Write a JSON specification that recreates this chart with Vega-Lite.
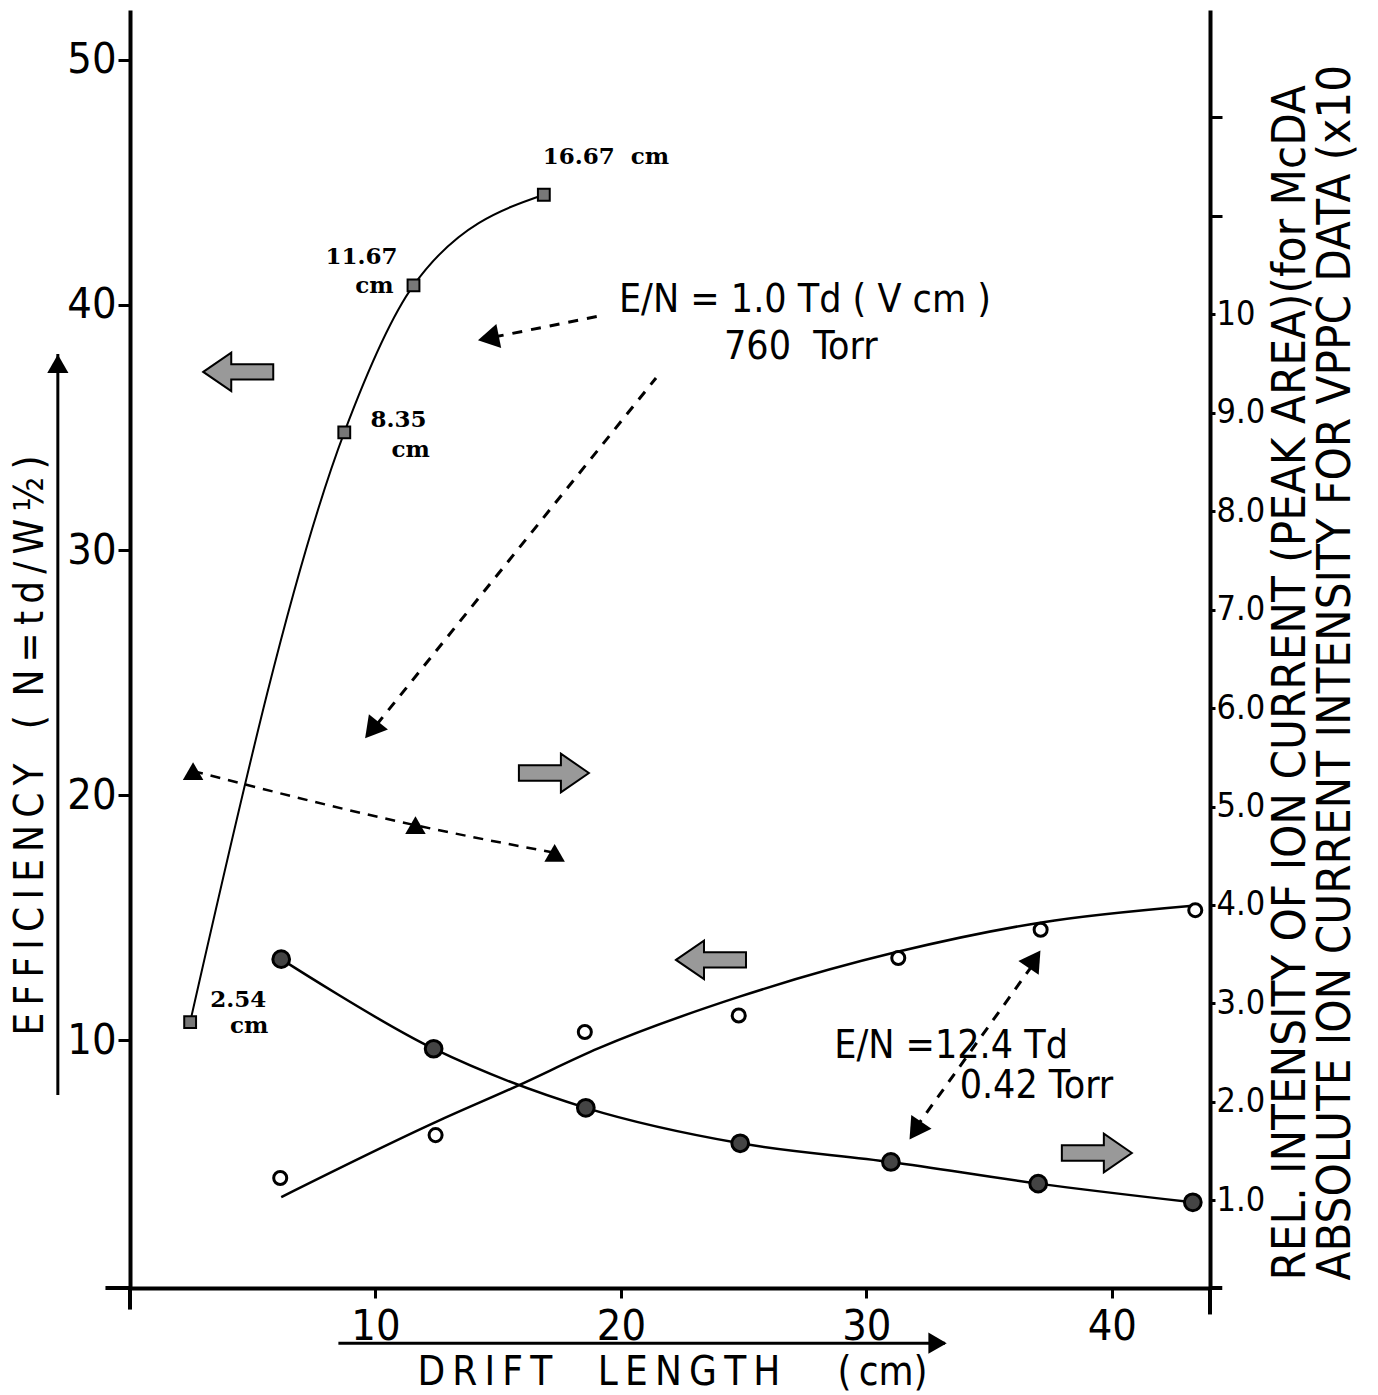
{
  "$schema": "https://vega.github.io/schema/vega-lite/v6.json",
  "width": 1080,
  "height": 1278,
  "autosize": {"type": "none"},
  "padding": {"left": 130, "top": 10, "right": 168, "bottom": 107},
  "background": "white",
  "config": {
    "view": {"stroke": null},
    "font": "'DejaVu Sans Condensed', 'Roboto Condensed', sans-serif",
    "axis": {"grid": false, "domainColor": "black", "tickColor": "black", "labelColor": "black", "titleColor": "black", "labelFont": "'DejaVu Sans Condensed', 'Roboto Condensed', sans-serif", "titleFont": "'DejaVu Sans Condensed', 'Roboto Condensed', sans-serif", "labelFontWeight": "normal", "titleFontWeight": "normal"}
  },
  "datasets": {
    "squares": [
      {"x": 2.45, "y": 10.73},
      {"x": 8.73, "y": 34.8},
      {"x": 11.55, "y": 40.8},
      {"x": 16.86, "y": 44.5}
    ],
    "triangles": [
      {"x": 2.57, "r": 5.36},
      {"x": 11.63, "r": 4.81},
      {"x": 17.3, "r": 4.53}
    ],
    "filled": [
      {"x": 6.16, "r": 3.45},
      {"x": 12.37, "r": 2.54},
      {"x": 18.57, "r": 1.94},
      {"x": 24.86, "r": 1.58},
      {"x": 31.0, "r": 1.39},
      {"x": 37.0, "r": 1.17},
      {"x": 43.3, "r": 0.98}
    ],
    "open": [
      {"x": 6.12, "y": 4.37},
      {"x": 12.45, "y": 6.12},
      {"x": 18.53, "y": 10.33},
      {"x": 24.8, "y": 11.0},
      {"x": 31.3, "y": 13.35},
      {"x": 37.1, "y": 14.5},
      {"x": 43.4, "y": 15.3}
    ],
    "openfit": [
      {"x": 6.16, "y": 3.59},
      {"x": 12.45, "y": 6.65},
      {"x": 15.76, "y": 8.12},
      {"x": 19.1, "y": 9.67},
      {"x": 24.8, "y": 11.76},
      {"x": 31.27, "y": 13.6},
      {"x": 37.14, "y": 14.8},
      {"x": 43.18, "y": 15.47}
    ],
    "serifLabels": [
      {"x": 19.39, "y": 46.04, "t": "16.67\u00a0 cm"},
      {"x": 9.43, "y": 41.96, "t": "11.67"},
      {"x": 9.96, "y": 40.78, "t": "cm"},
      {"x": 10.94, "y": 35.31, "t": "8.35"},
      {"x": 11.43, "y": 34.08, "t": "cm"},
      {"x": 4.41, "y": 11.63, "t": "2.54"},
      {"x": 4.86, "y": 10.57, "t": "cm"}
    ],
    "notes": [
      {"x": 19.92, "y": 40.2, "t": "E/N = 1.0 Td ( V cm )"},
      {"x": 24.2, "y": 38.29, "t": "760\u00a0 Torr"},
      {"x": 28.69, "y": 9.76, "t": "E/N =12.4 Td"},
      {"x": 33.8, "y": 8.12, "t": "0.42 Torr"}
    ],
    "blocks": [
      {"x": 4.41, "y": 37.27, "dir": "left"},
      {"x": 17.27, "y": 20.9, "dir": "right"},
      {"x": 23.67, "y": 13.27, "dir": "left"},
      {"x": 39.39, "y": 5.39, "dir": "right"}
    ],
    "dashArrows": [
      {"id": "a", "x": 19.31, "y": 39.59},
      {"id": "a", "x": 14.82, "y": 38.69},
      {"id": "b", "x": 21.43, "y": 37.02},
      {"id": "b", "x": 10.04, "y": 22.86},
      {"id": "c", "x": 36.8, "y": 13.1},
      {"id": "c", "x": 32.0, "y": 6.4}
    ],
    "heads": [
      {"x": 14.6, "y": 38.65, "ang": 258.7},
      {"x": 9.85, "y": 22.65, "ang": 218.9},
      {"x": 36.85, "y": 13.3, "ang": 34.1},
      {"x": 32.0, "y": 6.3, "ang": 214.1}
    ],
    "titleArrows": [
      {"id": "ly", "x": -2.94, "y": 7.76},
      {"id": "ly", "x": -2.94, "y": 38.0},
      {"id": "bx", "x": 8.49, "y": -2.37},
      {"id": "bx", "x": 33.2, "y": -2.37}
    ],
    "titleHeads": [
      {"x": -2.94, "y": 37.6, "ang": 0},
      {"x": 32.9, "y": -2.37, "ang": 90}
    ],
    "ext": [
      {"x": 0, "x2": 0, "y": -0.12, "y2": -1.0},
      {"x": -1.0, "x2": 0, "y": -0.12, "y2": -0.12},
      {"x": 44, "x2": 44, "y": -0.12, "y2": -1.2},
      {"x": 44, "x2": 44.5, "y": -0.12, "y2": -0.12}
    ]
  },
  "layer": [
    {
      "layer": [
        {
          "data": {"name": "squares"},
          "mark": {"type": "line", "interpolate": "monotone", "color": "black", "strokeWidth": 2},
          "encoding": {
            "x": {"field": "x", "type": "quantitative", "scale": {"domain": [0, 44], "nice": false, "zero": false},
              "axis": {"title": "D\u2009R\u2009I\u2009F\u2009T\u00a0\u00a0\u00a0 L\u2009E\u2009N\u2009G\u2009T\u2009H\u00a0\u00a0\u00a0\u00a0 (\u2009cm)", "values": [10, 20, 30, 40], "domainWidth": 4, "tickWidth": 3, "tickSize": 10, "labelPadding": 7, "labelFontSize": 43, "titleFontSize": 40, "titleX": 542, "titleY": 84, "titleBaseline": "middle"}},
            "y": {"field": "y", "type": "quantitative", "scale": {"domain": [-0.12, 52.04], "nice": false, "zero": false},
              "axis": {"title": "E\u2009F\u2009F\u2009I\u2009C\u2009I\u2009E\u2009N\u2009C\u2009Y\u00a0\u00a0 (\u2009 N\u2009=\u2009t\u2009d\u2009/\u2009W\u2009½\u2009)", "values": [10, 20, 30, 40, 50], "domainWidth": 4, "tickWidth": 3, "tickSize": 12, "labelPadding": 2, "labelFontSize": 43, "titleFontSize": 40, "titleX": -100, "titleY": 735, "titleAngle": 270, "titleBaseline": "middle", "titleAlign": "center"}}
          }
        },
        {
          "data": {"name": "squares"},
          "mark": {"type": "point", "shape": "square", "filled": true, "fill": "#777", "stroke": "black", "strokeWidth": 2, "size": 140, "opacity": 1},
          "encoding": {"x": {"field": "x", "type": "quantitative"}, "y": {"field": "y", "type": "quantitative"}}
        },
        {
          "data": {"name": "openfit"},
          "mark": {"type": "line", "interpolate": "monotone", "color": "black", "strokeWidth": 2.5},
          "encoding": {"x": {"field": "x", "type": "quantitative"}, "y": {"field": "y", "type": "quantitative"}}
        },
        {
          "data": {"name": "open"},
          "mark": {"type": "point", "shape": "circle", "filled": true, "fill": "white", "stroke": "black", "strokeWidth": 3, "size": 170, "opacity": 1},
          "encoding": {"x": {"field": "x", "type": "quantitative"}, "y": {"field": "y", "type": "quantitative"}}
        },
        {
          "data": {"name": "serifLabels"},
          "mark": {"type": "text", "font": "DejaVu Serif", "fontWeight": "bold", "fontSize": 23, "color": "black", "align": "center", "baseline": "middle"},
          "encoding": {"x": {"field": "x", "type": "quantitative"}, "y": {"field": "y", "type": "quantitative"}, "text": {"field": "t"}}
        },
        {
          "data": {"name": "notes"},
          "mark": {"type": "text", "fontSize": 39, "color": "black", "align": "left", "baseline": "middle"},
          "encoding": {"x": {"field": "x", "type": "quantitative"}, "y": {"field": "y", "type": "quantitative"}, "text": {"field": "t"}}
        },
        {
          "data": {"name": "blocks"},
          "mark": {"type": "point", "filled": true, "fill": "#999", "stroke": "black", "strokeWidth": 2, "size": 4900, "opacity": 1},
          "encoding": {
            "x": {"field": "x", "type": "quantitative"},
            "y": {"field": "y", "type": "quantitative"},
            "shape": {"field": "dir", "type": "nominal", "legend": null, "scale": {"domain": ["left", "right"], "range": ["M -1 0 L -0.2 -0.55 L -0.2 -0.22 L 1 -0.22 L 1 0.22 L -0.2 0.22 L -0.2 0.55 Z", "M 1 0 L 0.2 -0.55 L 0.2 -0.22 L -1 -0.22 L -1 0.22 L 0.2 0.22 L 0.2 0.55 Z"]}}
          }
        },
        {
          "data": {"name": "dashArrows"},
          "mark": {"type": "line", "color": "black", "strokeWidth": 3, "strokeDash": [10, 9]},
          "encoding": {"x": {"field": "x", "type": "quantitative"}, "y": {"field": "y", "type": "quantitative"}, "detail": {"field": "id"}}
        },
        {
          "data": {"name": "heads"},
          "mark": {"type": "point", "shape": "triangle-up", "filled": true, "color": "black", "size": 600, "opacity": 1},
          "encoding": {"x": {"field": "x", "type": "quantitative"}, "y": {"field": "y", "type": "quantitative"}, "angle": {"field": "ang", "type": "quantitative", "scale": null}}
        },
        {
          "data": {"name": "titleArrows"},
          "mark": {"type": "line", "color": "black", "strokeWidth": 3},
          "encoding": {"x": {"field": "x", "type": "quantitative"}, "y": {"field": "y", "type": "quantitative"}, "detail": {"field": "id"}}
        },
        {
          "data": {"name": "titleHeads"},
          "mark": {"type": "point", "shape": "triangle-up", "filled": true, "color": "black", "size": 450, "opacity": 1},
          "encoding": {"x": {"field": "x", "type": "quantitative"}, "y": {"field": "y", "type": "quantitative"}, "angle": {"field": "ang", "type": "quantitative", "scale": null}}
        },
        {
          "data": {"name": "ext"},
          "mark": {"type": "rule", "color": "black", "strokeWidth": 4},
          "encoding": {"x": {"field": "x", "type": "quantitative"}, "x2": {"field": "x2"}, "y": {"field": "y", "type": "quantitative"}, "y2": {"field": "y2"}}
        }
      ]
    },
    {
      "layer": [
        {
          "data": {"name": "triangles"},
          "mark": {"type": "line", "interpolate": "monotone", "color": "black", "strokeWidth": 2.5, "strokeDash": [10, 8]},
          "encoding": {
            "x": {"field": "x", "type": "quantitative"},
            "y": {"field": "r", "type": "quantitative", "scale": {"domain": [0.11, 13.09], "nice": false, "zero": false},
              "axis": {"orient": "right", "values": [1, 2, 3, 4, 5, 6, 7, 8, 9, 10, 11, 12], "labelExpr": "datum.value >= 11 ? '' : (datum.value == 10 ? '10' : format(datum.value, '.1f'))", "domainWidth": 4, "tickWidth": 3, "tickSize": {"condition": {"test": "datum.value >= 11", "value": 12}, "value": 5}, "labelPadding": 1, "labelFontSize": 34,
                "title": ["REL. INTENSITY OF ION CURRENT (PEAK AREA)(for McDA", "ABSOLUTE ION CURRENT INTENSITY FOR VPPC DATA (x10"], "titleFontSize": 47, "titleAngle": 270, "titleX": 80, "titleY": 1270, "titleAlign": "left", "titleBaseline": "middle", "titleLineHeight": 45}}
          }
        },
        {
          "data": {"name": "triangles"},
          "mark": {"type": "point", "shape": "triangle-up", "filled": true, "color": "black", "size": 420, "opacity": 1},
          "encoding": {"x": {"field": "x", "type": "quantitative"}, "y": {"field": "r", "type": "quantitative"}}
        },
        {
          "data": {"name": "filled"},
          "mark": {"type": "line", "interpolate": "catmull-rom", "color": "black", "strokeWidth": 2.5},
          "encoding": {"x": {"field": "x", "type": "quantitative"}, "y": {"field": "r", "type": "quantitative"}}
        },
        {
          "data": {"name": "filled"},
          "mark": {"type": "point", "shape": "circle", "filled": true, "fill": "#444", "stroke": "black", "strokeWidth": 3, "size": 280, "opacity": 1},
          "encoding": {"x": {"field": "x", "type": "quantitative"}, "y": {"field": "r", "type": "quantitative"}}
        }
      ]
    }
  ],
  "resolve": {"scale": {"y": "independent"}}
}
